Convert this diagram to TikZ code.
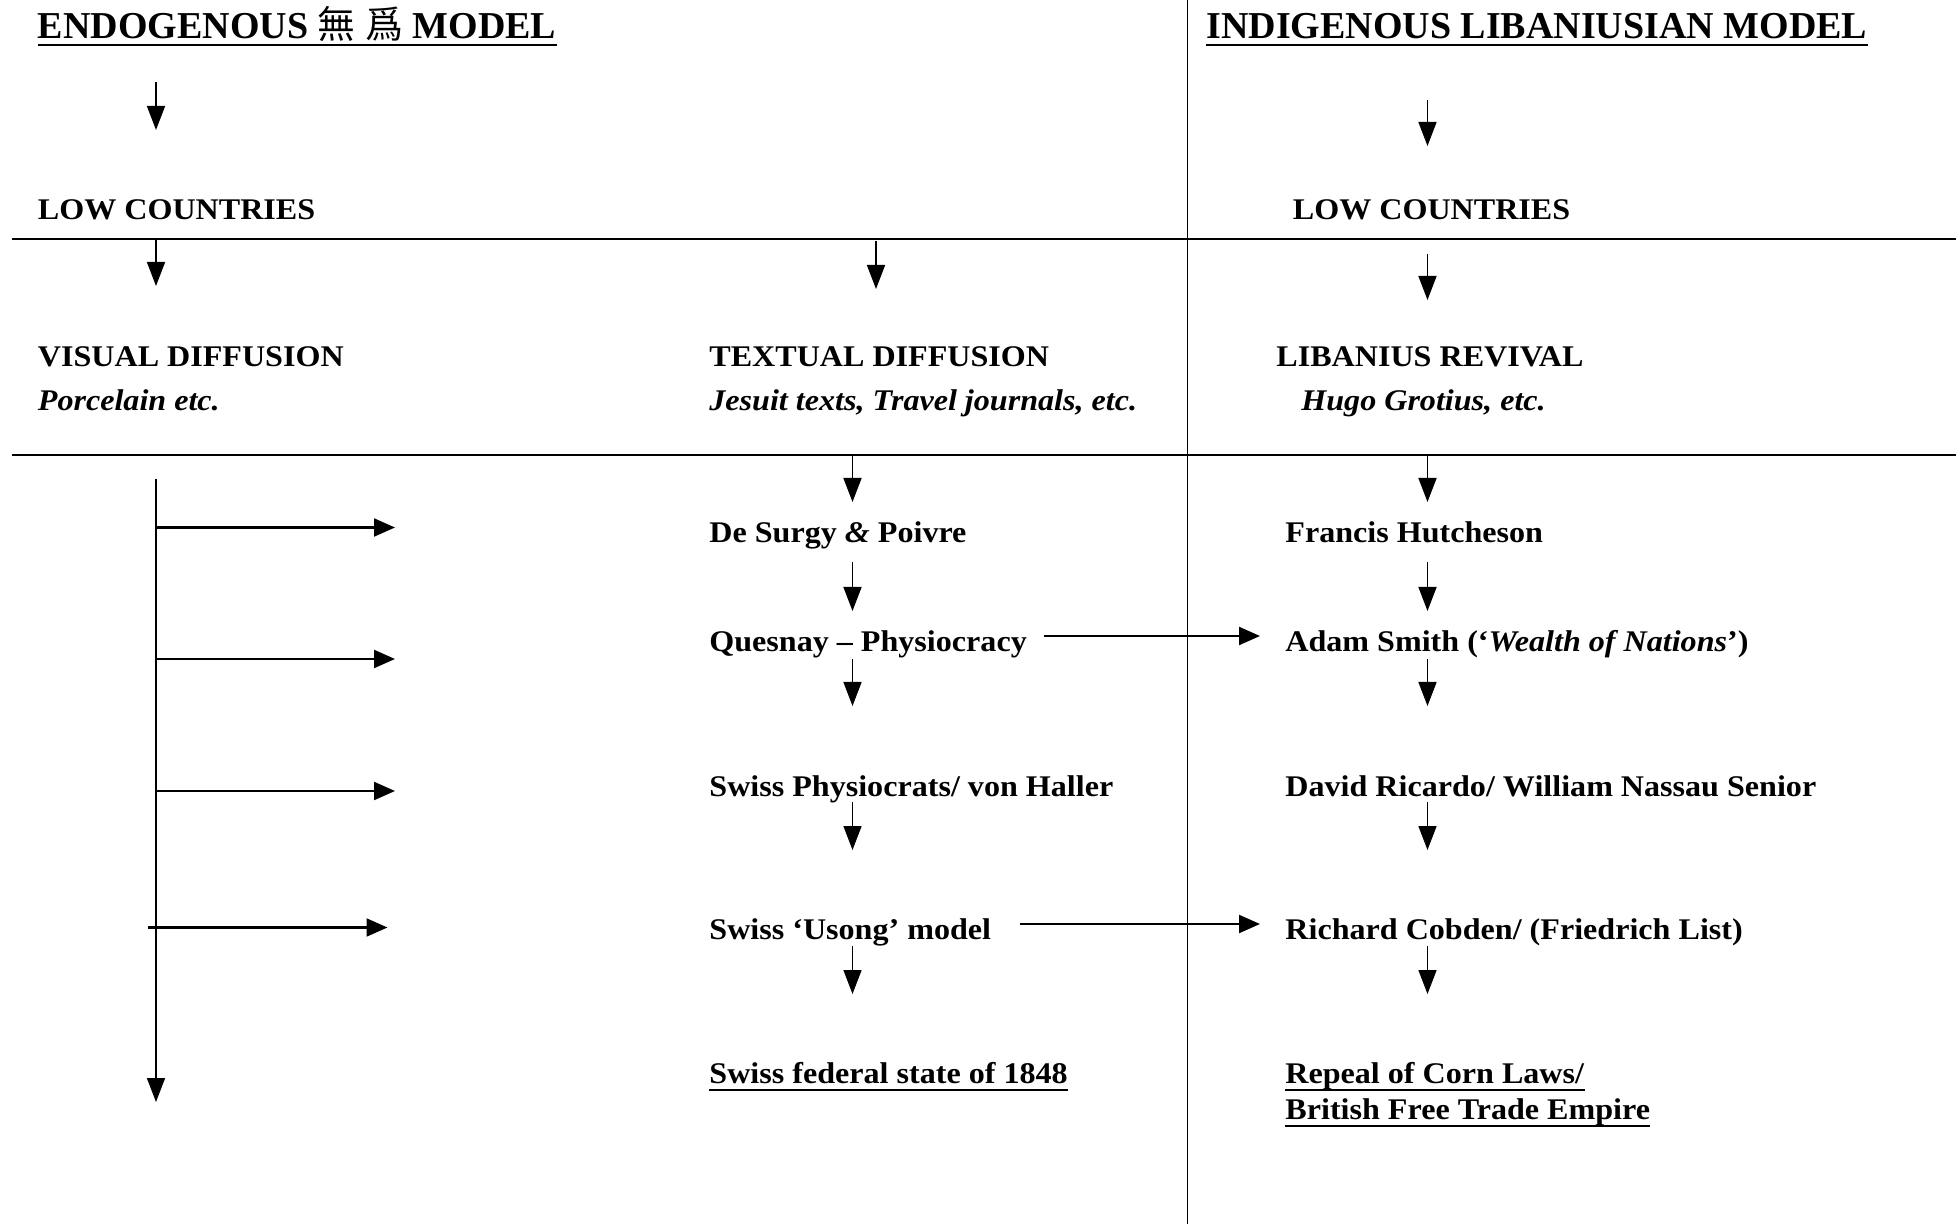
\documentclass[tikz,border=0pt]{standalone}
\usepackage{fontspec}
\setmainfont{Liberation Serif}
\newfontfamily\bodyfont{Liberation Serif}[FakeStretch=1.07,Ligatures=TeX]
\newfontfamily\cjkfont{Noto Sans CJK TC}
\usetikzlibrary{arrows.meta}
\begin{document}
\begin{tikzpicture}[x=0.5pt,y=-0.5pt,
  lbl/.style={anchor=base west, inner sep=0pt, font=\bodyfont\fontsize{15}{17}\selectfont\bfseries},
  ilbl/.style={lbl, font=\bodyfont\fontsize{15}{17}\selectfont\bfseries\itshape},
  ttl/.style={anchor=base west, inner sep=0pt, font=\fontsize{19}{22}\selectfont\bfseries},
  arr/.style={line width=0.8pt, -{Triangle[length=12pt,width=9pt]}},
  harr/.style={line width=1.1pt, -{Triangle[length=10.5pt,width=9pt]}},
  ulin/.style={line width=1pt},
  tulin/.style={line width=1.2pt},
  rulel/.style={line width=0.7pt}]
\useasboundingbox (0,0) rectangle (1960,1224);
% rules
\coordinate (vtop) at (1187.5,0);
\coordinate (vbot) at (1187.5,1224);
\coordinate (h1l) at (12,239);
\coordinate (h1r) at (1956,239);
\coordinate (h2l) at (12,455);
\coordinate (h2r) at (1956,455);
\draw[rulel] (vtop) -- (vbot);
\draw[rulel] (h1l) -- (h1r);
\draw[rulel] (h2l) -- (h2r);
% titles
\node[ttl] (t1) at (37.5,39) {ENDOGENOUS {\cjkfont\mdseries 無} {\cjkfont\mdseries 爲} MODEL};
\node[ttl] (t2) at (1206,39) {INDIGENOUS LIBANIUSIAN MODEL};
\draw[tulin] ([yshift=-3pt]t1.base west) -- ([yshift=-3pt]t1.base east);
\draw[tulin] ([yshift=-3pt]t2.base west) -- ([yshift=-3pt]t2.base east);
% low countries
\node[lbl] (lc1) at (37.5,220) {LOW COUNTRIES};
\node[lbl] (lc2) at (1292.5,220) {LOW COUNTRIES};
% diffusion headings
\node[lbl] (vd) at (37.5,367) {VISUAL DIFFUSION};
\node[ilbl] (vd2) at (37.5,411) {Porcelain etc.};
\node[lbl] (td) at (709,367) {TEXTUAL DIFFUSION};
\node[ilbl] (td2) at (709,411) {Jesuit texts, Travel journals, etc.};
\node[lbl] (lr) at (1276,367) {LIBANIUS REVIVAL};
\node[ilbl] (lr2) at (1301,411) {Hugo Grotius, etc.};
% middle column
\node[lbl] (m1) at (709,543) {De Surgy \textit{\&} Poivre};
\node[lbl] (m2) at (709,652) {Quesnay – Physiocracy};
\node[lbl] (m3) at (709,796) {Swiss Physiocrats/ von Haller};
\node[lbl] (m4) at (709,939) {Swiss ‘Usong’ model};
\node[lbl] (m5) at (709,1083) {Swiss federal state of 1848};
\draw[ulin] ([yshift=-3.5pt]m5.base west) -- ([yshift=-3.5pt]m5.base east);
% right column
\node[lbl] (r1) at (1285,543) {Francis Hutcheson};
\node[lbl] (r2) at (1285,652) {Adam Smith (‘\textit{Wealth of Nations}’)};
\node[lbl] (r3) at (1285,796) {David Ricardo/ William Nassau Senior};
\node[lbl] (r4) at (1285,939) {Richard Cobden/ (Friedrich List)};
\node[lbl] (r5) at (1285,1083) {Repeal of Corn Laws/};
\node[lbl] (r6) at (1285,1119) {British Free Trade Empire};
\draw[ulin] ([yshift=-3.5pt]r5.base west) -- ([yshift=-3.5pt]r5.base east);
\draw[ulin] ([yshift=-3.5pt]r6.base west) -- ([yshift=-3.5pt]r6.base east);
% top arrows
\coordinate (a1s) at (156,82);   \coordinate (a1e) at (156,130);
\coordinate (a2s) at (1427.5,100); \coordinate (a2e) at (1427.5,146);
\coordinate (a3s) at (156,240);  \coordinate (a3e) at (156,286);
\coordinate (a4s) at (876,241);  \coordinate (a4e) at (876,289);
\coordinate (a5s) at (1427.5,254); \coordinate (a5e) at (1427.5,300);
\foreach \i in {1,...,5} \draw[arr] (a\i s) -- (a\i e);
% middle and right column arrows
\foreach \n/\ys/\ye in {1/456/502, 2/562/611, 3/659/706, 4/802/850, 5/946/994} {
  \coordinate (ms\n) at (852.5,\ys); \coordinate (me\n) at (852.5,\ye);
  \coordinate (rs\n) at (1427.5,\ys); \coordinate (re\n) at (1427.5,\ye);
  \draw[arr] (ms\n) -- (me\n);
  \draw[arr] (rs\n) -- (re\n);
}
% left long vertical
\coordinate (vls) at (156,479);
\coordinate (vle) at (156,1102);
\draw[arr] (vls) -- (vle);
% left horizontal arrows
\coordinate (hs1) at (156,527.5); \coordinate (he1) at (395,527.5);
\coordinate (hs2) at (156,659);   \coordinate (he2) at (395,659);
\coordinate (hs3) at (156,791);   \coordinate (he3) at (395,791);
\coordinate (hs4) at (147.5,927.5); \coordinate (he4) at (387.5,927.5);
\foreach \i in {1,...,4} \draw[harr] (hs\i) -- (he\i);
% cross arrows
\coordinate (c1s) at (1044,636); \coordinate (c1e) at (1260,636);
\coordinate (c2s) at (1020,924); \coordinate (c2e) at (1260,924);
\draw[harr] (c1s) -- (c1e);
\draw[harr] (c2s) -- (c2e);
\end{tikzpicture}
\end{document}
